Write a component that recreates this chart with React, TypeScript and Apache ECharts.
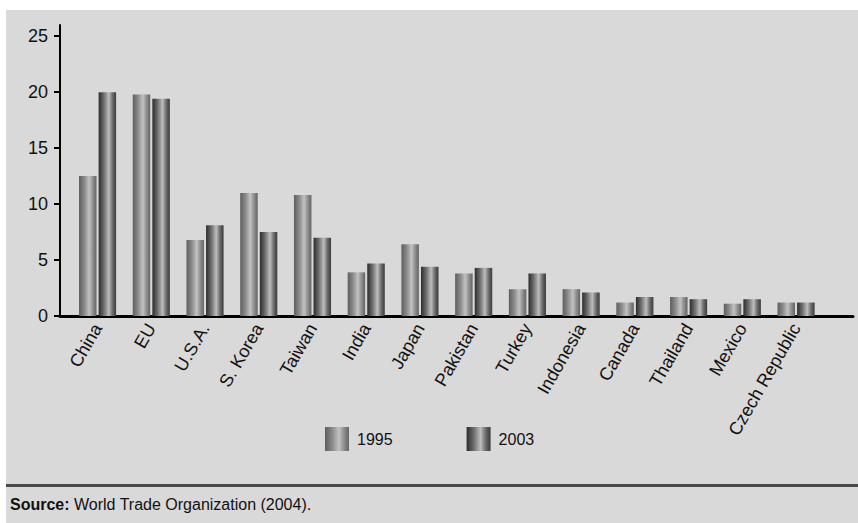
import React, { useEffect, useRef } from "react";
import * as echarts from "echarts";

const categories = [
  "China",
  "EU",
  "U.S.A.",
  "S. Korea",
  "Taiwan",
  "India",
  "Japan",
  "Pakistan",
  "Turkey",
  "Indonesia",
  "Canada",
  "Thailand",
  "Mexico",
  "Czech Republic",
];
const values1995 = [12.5, 19.8, 6.8, 11.0, 10.8, 3.9, 6.4, 3.8, 2.4, 2.4, 1.2, 1.7, 1.1, 1.2];
const values2003 = [20.0, 19.4, 8.1, 7.5, 7.0, 4.7, 4.4, 4.3, 3.8, 2.1, 1.7, 1.5, 1.5, 1.2];
const seriesNames = ["1995", "2003"];
const yMin = 0;
const yMax = 26;
const yInterval = 5;
const sourceLabel = "Source:";
const sourceText = " World Trade Organization (2004).";

const FONT = "'Liberation Sans', Arial, Helvetica, sans-serif";

export default function App() {
  const ref = useRef<HTMLDivElement>(null);
  useEffect(() => {
    if (!ref.current) return;
    const chart = echarts.init(ref.current, null, { renderer: "svg" });

    const grad1995 = new echarts.graphic.LinearGradient(0, 0, 1, 0, [
      { offset: 0, color: "#5e5e5e" },
      { offset: 0.3, color: "#8a8a8a" },
      { offset: 0.58, color: "#c2c2c2" },
      { offset: 0.8, color: "#8c8c8c" },
      { offset: 1, color: "#636363" },
    ]);
    const grad2003 = new echarts.graphic.LinearGradient(0, 0, 1, 0, [
      { offset: 0, color: "#2c2c2c" },
      { offset: 0.3, color: "#6e6e6e" },
      { offset: 0.58, color: "#bdbdbd" },
      { offset: 0.8, color: "#6a6a6a" },
      { offset: 1, color: "#3a3a3a" },
    ]);

    const bandW = 53.73;
    const gridLeft = 70.7;
    const gridWidth = bandW * categories.length;

    chart.setOption({
      animation: false,
      backgroundColor: "#ffffff",
      textStyle: { fontFamily: FONT },
      graphic: [
        {
          type: "rect",
          z: -10,
          silent: true,
          shape: { x: 6, y: 10, width: 852, height: 513 },
          style: { fill: "#d9d9d9" },
        },
        {
          type: "line",
          z: 1,
          silent: true,
          shape: { x1: 6, y1: 485.5, x2: 858, y2: 485.5 },
          style: { stroke: "#4a4a4a", lineWidth: 3 },
        },
        {
          type: "text",
          x: 10,
          y: 504,
          style: {
            text: "{b|" + sourceLabel + "}{r|" + sourceText + "}",
            verticalAlign: "middle",
            rich: {
              b: { fontFamily: FONT, fontWeight: "bold", fontSize: 16, fill: "#111" },
              r: { fontFamily: FONT, fontSize: 16, fill: "#111" },
            },
          },
        },
      ],
      legend: {
        left: 325,
        top: 427,
        padding: 0,
        itemWidth: 24,
        itemHeight: 24,
        itemGap: 74,
        icon: "rect",
        data: seriesNames,
        textStyle: { fontFamily: FONT, fontSize: 16, color: "#111", padding: [0, 0, 0, 3] },
      },
      grid: [
        { left: gridLeft, width: gridWidth, top: 25, bottom: 207, containLabel: false },
        { left: 60, right: 5, top: 25, bottom: 207, containLabel: false },
      ],
      xAxis: [
        {
          type: "category",
          gridIndex: 0,
          data: categories,
          axisLine: { show: false },
          axisTick: { show: false },
          axisLabel: {
            rotate: 60,
            interval: 0,
            margin: 9,
            fontFamily: FONT,
            fontSize: 18,
            color: "#111",
          },
        },
        {
          type: "value",
          gridIndex: 1,
          min: 0,
          max: 1,
          axisLine: { show: true, onZero: false, lineStyle: { color: "#000", width: 3 } },
          axisTick: { show: false },
          axisLabel: { show: false },
          splitLine: { show: false },
        },
      ],
      yAxis: [
        {
          type: "value",
          gridIndex: 0,
          min: yMin,
          max: yMax,
          interval: yInterval,
          offset: gridLeft - 60,
          axisLine: { show: true, lineStyle: { color: "#000", width: 2 } },
          axisTick: { show: true, length: 6, lineStyle: { color: "#000", width: 2 } },
          axisLabel: { margin: 12, fontFamily: FONT, fontSize: 18, color: "#111" },
          splitLine: { show: false },
        },
        {
          type: "value",
          gridIndex: 1,
          min: 0,
          max: 1,
          show: false,
        },
      ],
      series: [
        {
          name: seriesNames[0],
          type: "bar",
          xAxisIndex: 0,
          yAxisIndex: 0,
          data: values1995,
          barWidth: 17.5,
          barGap: "12%",
          itemStyle: { color: grad1995 },
        },
        {
          name: seriesNames[1],
          type: "bar",
          xAxisIndex: 0,
          yAxisIndex: 0,
          data: values2003,
          barWidth: 17.5,
          barGap: "12%",
          itemStyle: { color: grad2003 },
        },
      ],
    });
    return () => chart.dispose();
  }, []);
  return (
    <div
      ref={ref}
      style={{ position: "fixed", left: 0, top: 0, width: 858, height: 523 }}
    />
  );
}
